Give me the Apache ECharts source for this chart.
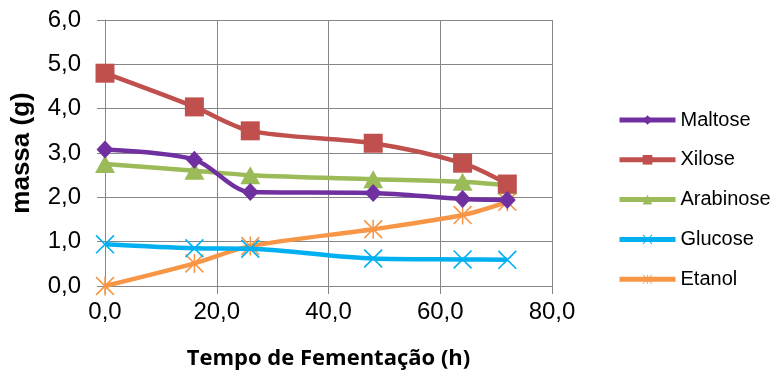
<!DOCTYPE html>
<html><head><meta charset="utf-8">
<script src="https://cdn.jsdelivr.net/npm/echarts@6/dist/echarts.min.js"></script>
<style>html,body{margin:0;padding:0;background:#fff}#c{width:771px;height:372px}</style>
</head><body><div id="c"></div>
<script>
const times = [0, 16, 26, 48, 64, 72];
const maltose = [3.08, 2.85, 2.12, 2.10, 1.96, 1.94];
const xilose = [4.80, 4.04, 3.50, 3.22, 2.77, 2.30];
const arabinose = [2.75, 2.60, 2.50, 2.41, 2.35, 2.27];
const glucose = [0.94, 0.85, 0.84, 0.62, 0.60, 0.59];
const etanol = [0.00, 0.51, 0.90, 1.28, 1.60, 1.90];
const seriesNames = ['Maltose', 'Xilose', 'Arabinose', 'Glucose', 'Etanol'];
const colors = ['#7030A0', '#C0504D', '#9BBB59', '#00B0F0', '#F79646'];
const xTitle = 'Tempo de Fementação (h)';
const yTitle = 'massa (g)';

const crossPath = 'path://M0,1.2L1.2,0L20,18.8L18.8,20ZM18.8,0L20,1.2L1.2,20L0,18.8Z';
const starPath = 'path://M0,1.2L1.2,0L20,18.8L18.8,20ZM18.8,0L20,1.2L1.2,20L0,18.8ZM9.2,0L10.8,0L10.8,20L9.2,20Z';
const symbols = ['diamond', 'rect', 'triangle', crossPath, starPath];
const sizes = [[17, 18], 19, [20, 18], 19, 19];
const dataSets = [maltose, xilose, arabinose, glucose, etanol];

const chart = echarts.init(document.getElementById('c'), null, {renderer: 'canvas'});
chart.setOption({
  animation: false,
  backgroundColor: '#fff',
  grid: {left: 105, right: 219, top: 20, bottom: 86, containLabel: false, outerBoundsMode: 'none'},
  legend: {
    orient: 'vertical', left: 617, top: 110, padding: 0,
    itemWidth: 56, itemHeight: 12, itemGap: 19.8,
    lineStyle: {width: 5},
    textStyle: {fontFamily: 'Liberation Sans', fontSize: 20, color: '#000', lineHeight: 20},
    data: seriesNames
  },
  xAxis: {
    type: 'value', min: 0, max: 80, interval: 20,
    name: xTitle, nameLocation: 'middle', nameGap: 62,
    nameTextStyle: {fontFamily: 'Open Sans', fontWeight: 'bold', fontSize: 22, color: '#000'},
    axisLine: {show: true, lineStyle: {color: '#868686', width: 1}},
    axisTick: {show: true, length: 8, lineStyle: {color: '#868686'}},
    splitLine: {show: true, lineStyle: {color: '#868686', width: 1}},
    axisLabel: {fontFamily: 'Liberation Sans', fontSize: 24, color: '#000', margin: 14,
      formatter: v => v.toFixed(1).replace('.', ',')}
  },
  yAxis: {
    type: 'value', min: 0, max: 6, interval: 1,
    name: yTitle, nameLocation: 'middle', nameGap: 70, nameRotate: 90,
    nameTextStyle: {fontFamily: 'Liberation Sans', fontWeight: 'bold', fontSize: 26, color: '#000'},
    axisLine: {show: true, lineStyle: {color: '#868686', width: 1}},
    axisTick: {show: true, length: 8, lineStyle: {color: '#868686'}},
    splitLine: {show: true, lineStyle: {color: '#868686', width: 1}},
    axisLabel: {fontFamily: 'Liberation Sans', fontSize: 24, color: '#000', margin: 24,
      formatter: v => v.toFixed(1).replace('.', ',')}
  },
  series: seriesNames.map((n, i) => ({
    name: n, type: 'line', smooth: 0.3,
    data: times.map((t, j) => [t, dataSets[i][j]]),
    symbol: symbols[i], symbolSize: sizes[i], showSymbol: true,
    lineStyle: {color: colors[i], width: 4.5},
    itemStyle: {color: colors[i]},
    z: 10 - i
  }))
});
</script></body></html>
